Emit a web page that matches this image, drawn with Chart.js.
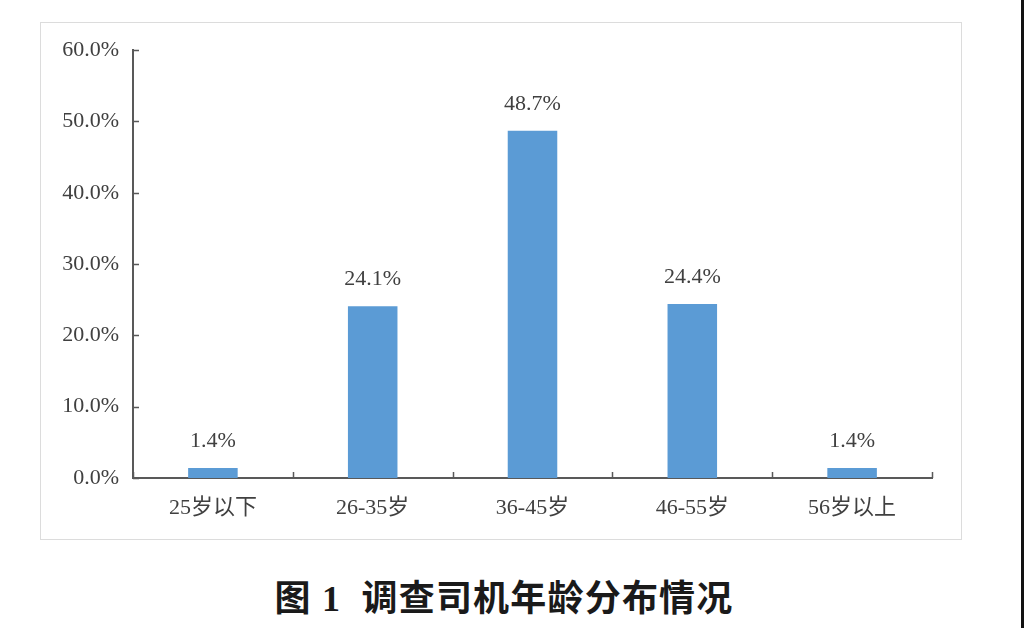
<!DOCTYPE html>
<html>
<head>
<meta charset="utf-8">
<script src="https://cdn.jsdelivr.net/npm/chart.js@4.4.0/dist/chart.umd.min.js"></script>
<style>
  html, body { margin: 0; padding: 0; background: #fff; }
  body { width: 1024px; height: 628px; position: relative; overflow: hidden; }
  #box {
    position: absolute; left: 40px; top: 22px;
    width: 920px; height: 516px;
    border: 1px solid #dcdcdc;
  }
  #edge { position: absolute; left: 1021px; top: 0; width: 3px; height: 628px; background: #111; }
  #title {
    position: absolute; left: 0; top: 578px; width: 1008px;
    text-align: center;
    font-family: "Liberation Serif", "Noto Sans CJK SC", serif;
    font-weight: bold; font-size: 36px; line-height: 42px; color: #1a1a1a;
    letter-spacing: 1.2px;
    white-space: pre;
  }
</style>
</head>
<body>
<div id="box"><canvas id="ageChart" width="920" height="516"></canvas></div>
<div id="edge"></div>
<div id="title">图 1  调查司机年龄分布情况</div>
<script>
const ageGroups = ["25岁以下", "26-35岁", "36-45岁", "46-55岁", "56岁以上"];
const sharePct = [1.4, 24.1, 48.7, 24.4, 1.4];
const yTicks = [0, 10, 20, 30, 40, 50, 60];

const FONT = '"Liberation Serif", "Noto Sans CJK SC", serif';
const AXIS = "#595959";
const TEXT = "#404040";

// inward tick marks (Excel style) + value labels over bars
const excelBits = {
  id: "excelBits",
  afterDatasetsDraw(chart) {
    const ctx = chart.ctx;
    const x = chart.scales.x, y = chart.scales.y;
    const area = chart.chartArea;
    ctx.save();
    ctx.strokeStyle = AXIS;
    ctx.lineWidth = 1.5;
    ctx.beginPath();
    yTicks.forEach((v) => {
      const py = Math.round(y.getPixelForValue(v)) + 0.5;
      ctx.moveTo(area.left, py);
      ctx.lineTo(area.left + 6, py);
    });
    for (let i = 0; i <= ageGroups.length; i++) {
      const px = Math.round(x.getPixelForValue(i - 0.5)) + 0.5;
      ctx.moveTo(px, area.bottom);
      ctx.lineTo(px, area.bottom - 6);
    }
    ctx.stroke();

    ctx.fillStyle = TEXT;
    ctx.font = "22px " + FONT;
    ctx.textAlign = "center";
    ctx.textBaseline = "alphabetic";
    chart.getDatasetMeta(0).data.forEach((bar, i) => {
      ctx.fillText(sharePct[i].toFixed(1) + "%", bar.x, bar.y - 21);
    });
    ctx.restore();
  },
};

new Chart(document.getElementById("ageChart"), {
  type: "bar",
  data: {
    labels: ageGroups,
    datasets: [
      {
        data: sharePct,
        backgroundColor: "#5b9bd5",
        categoryPercentage: 1,
        barPercentage: 0.31,
      },
    ],
  },
  options: {
    responsive: false,
    animation: false,
    devicePixelRatio: 1,
    layout: { padding: { top: 27, right: 29, left: 0, bottom: 0 } },
    plugins: { legend: { display: false }, tooltip: { enabled: false } },
    scales: {
      x: {
        grid: { display: false, drawTicks: false },
        border: { color: AXIS, width: 2 },
        ticks: {
          color: TEXT,
          font: { family: FONT, size: 22 },
          padding: 17,
        },
        afterFit: (s) => { s.height = 61; },
      },
      y: {
        min: 0,
        max: 60,
        grid: { display: false, drawTicks: false },
        border: { color: AXIS, width: 2 },
        ticks: {
          stepSize: 10,
          color: TEXT,
          font: { family: FONT, size: 22 },
          padding: 14,
          callback: (v) => v.toFixed(1) + "%",
        },
        afterFit: (s) => { s.width = 92; },
      },
    },
  },
  plugins: [excelBits],
});
</script>
</body>
</html>
